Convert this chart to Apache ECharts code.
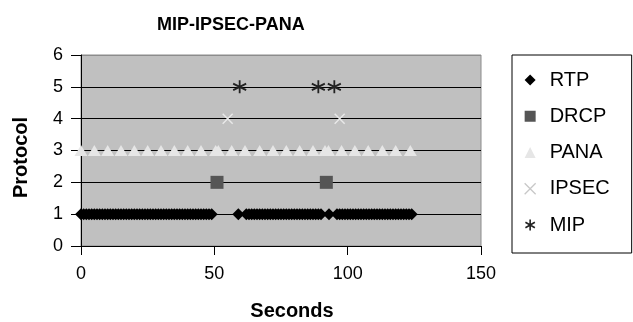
<!DOCTYPE html>
<html>
<head>
<meta charset="utf-8">
<title>MIP-IPSEC-PANA</title>
<script src="https://cdn.jsdelivr.net/npm/echarts@6/dist/echarts.min.js"></script>
<style>
  html, body { margin: 0; padding: 0; background: #fff; }
  #chart { width: 633px; height: 322px; }
</style>
</head>
<body>
<div id="chart"></div>
<script>
  "use strict";

  var FONT = "Liberation Sans, Arial, sans-serif";

  // protocol level on the y axis
  var LEVELS = { RTP: 1, DRCP: 2, PANA: 3, IPSEC: 4, MIP: 5 };

  // seconds at which each protocol shows a packet
  var rtpSeconds = [
    0, 1, 2, 3, 4, 5, 6, 7, 8, 9, 10, 11, 12, 13, 14, 15, 16, 17, 18, 19,
    20, 21, 22, 23, 24, 25, 26, 27, 28, 29, 30, 31, 32, 33, 34, 35, 36, 37, 38, 39,
    40, 41, 42, 43, 44, 45, 46, 47, 48, 49,
    59,
    62, 63, 64, 65, 66, 67, 68, 69, 70, 71, 72, 73, 74, 75, 76, 77, 78, 79,
    80, 81, 82, 83, 84, 85, 86, 87, 88, 89, 90,
    93,
    96, 97, 98, 99, 100, 101, 102, 103, 104, 105, 106, 107, 108, 109, 110,
    111, 112, 113, 114, 115, 116, 117, 118, 119, 120, 121, 122, 123, 124
  ];
  var drcpSeconds = [51, 92];
  var panaSeconds = [
    0, 5, 10, 15, 20, 25, 30, 35, 40, 45, 50.5, 51.5, 56.5, 61.5, 67, 72, 77,
    82, 87, 91.5, 92.8, 97.7, 102.7, 107.7, 113, 118, 123.5
  ];
  var ipsecSeconds = [55, 97];
  var mipSeconds = [59.5, 89, 95];

  var xTicks = [0, 50, 100, 150];
  var yTicks = [0, 1, 2, 3, 4, 5, 6];

  var CROSS = "path://M0,0L10,10M10,0L0,10";
  var STAR = "path://M5,0L5,10M0.7,2.5L9.3,7.5M0.7,7.5L9.3,2.5";

  function points(seconds, level) {
    return seconds.map(function (s) { return [s, level]; });
  }

  var chart = echarts.init(document.getElementById("chart"), null, { renderer: "canvas" });

  chart.setOption({
    backgroundColor: "#fff",
    animation: false,
    title: {
      text: "MIP-IPSEC-PANA", left: 152, top: 11,
      textStyle: { fontFamily: FONT, fontSize: 18, fontWeight: "bold", color: "#000" }
    },
    grid: {
      left: 81, right: 152, top: 55, bottom: 76,
      outerBoundsMode: "none", containLabel: false,
      show: true, backgroundColor: "#c0c0c0", borderColor: "#8c8c8c", borderWidth: 1
    },
    legend: {
      orient: "vertical", left: 512, top: 55,
      padding: [14, 22, 17, 12],
      borderColor: "#000", borderWidth: 1, borderRadius: 0,
      itemWidth: 11, itemHeight: 11, itemGap: 14.25,
      textStyle: { fontFamily: FONT, fontSize: 20, color: "#000", lineHeight: 22, padding: [0, 0, 0, 9] },
      data: [
        { name: "RTP" },
        { name: "DRCP" },
        { name: "PANA" },
        { name: "IPSEC", itemStyle: { color: "#dcdcdc", borderColor: "#c8c8c8", borderWidth: 1.3 } },
        { name: "MIP", itemStyle: { color: "#222", borderColor: "#222", borderWidth: 1.6 } }
      ]
    },
    xAxis: {
      type: "value", min: xTicks[0], max: xTicks[xTicks.length - 1], interval: 50,
      name: "Seconds", nameLocation: "middle", nameGap: 55,
      nameTextStyle: { fontFamily: FONT, fontSize: 20, fontWeight: "bold", color: "#000", padding: [0, 0, 0, 22] },
      axisLine: { show: true, onZero: false, lineStyle: { color: "#000", width: 1 } },
      axisTick: { show: true, inside: false, length: 9, lineStyle: { color: "#000" } },
      axisLabel: { fontFamily: FONT, fontSize: 18, color: "#000", margin: 19 },
      splitLine: { show: false }
    },
    yAxis: {
      type: "value", min: yTicks[0], max: yTicks[yTicks.length - 1], interval: 1,
      name: "Protocol", nameLocation: "middle", nameGap: 50,
      nameTextStyle: { fontFamily: FONT, fontSize: 20, fontWeight: "bold", color: "#000", padding: [0, 14, 0, 0] },
      axisLine: { show: true, lineStyle: { color: "#000", width: 1 } },
      axisTick: { show: true, inside: false, length: 10, lineStyle: { color: "#000" } },
      axisLabel: { fontFamily: FONT, fontSize: 18, color: "#000", margin: 18 },
      splitLine: {
        show: true,
        lineStyle: { color: ["#000", "#000", "#000", "#000", "#000", "#000", "#8c8c8c"], width: 1 }
      }
    },
    series: [
      {
        name: "RTP", type: "scatter", symbol: "diamond", symbolSize: [12, 12],
        itemStyle: { color: "#000", opacity: 1 },
        data: points(rtpSeconds, LEVELS.RTP)
      },
      {
        name: "DRCP", type: "scatter", symbol: "rect", symbolSize: 13,
        itemStyle: { color: "#555", opacity: 1 },
        data: points(drcpSeconds, LEVELS.DRCP)
      },
      {
        name: "PANA", type: "scatter", symbol: "triangle", symbolSize: [13, 11],
        itemStyle: { color: "#e6e6e6", opacity: 1 },
        data: points(panaSeconds, LEVELS.PANA)
      },
      {
        name: "IPSEC", type: "scatter", symbol: CROSS, symbolSize: 10,
        itemStyle: { color: "#e8e8e8", borderColor: "#e8e8e8", borderWidth: 1.5, opacity: 1 },
        data: points(ipsecSeconds, LEVELS.IPSEC)
      },
      {
        name: "MIP", type: "scatter", symbol: STAR, symbolSize: 13,
        itemStyle: { color: "#222", borderColor: "#222", borderWidth: 1.8, opacity: 1 },
        data: points(mipSeconds, LEVELS.MIP)
      }
    ]
  });
</script>
</body>
</html>
